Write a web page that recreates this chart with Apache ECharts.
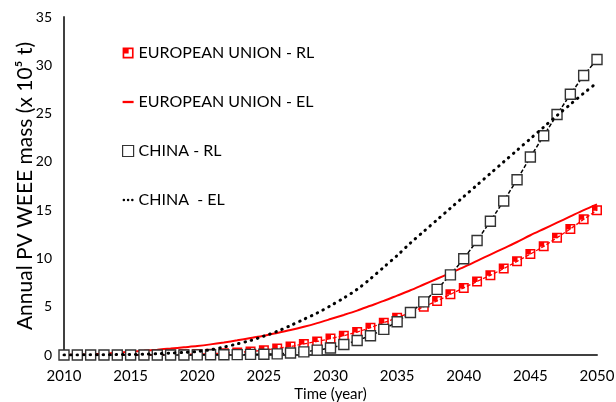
<!DOCTYPE html>
<html>
<head>
<meta charset="utf-8">
<script src="https://cdn.jsdelivr.net/npm/echarts@6/dist/echarts.min.js"></script>
<style>
html,body{margin:0;padding:0;background:#fff;}
#chart{width:616px;height:402px;}
</style>
</head>
<body>
<div id="chart"></div>
<script>
// ---- data ----
var years = [2010,2011,2012,2013,2014,2015,2016,2017,2018,2019,2020,2021,2022,2023,2024,2025,2026,2027,2028,2029,2030,2031,2032,2033,2034,2035,2036,2037,2038,2039,2040,2041,2042,2043,2044,2045,2046,2047,2048,2049,2050];
var euRL = [0,0,0,0,0.01,0.01,0.02,0.03,0.05,0.07,0.1,0.14,0.19,0.26,0.36,0.5,0.68,0.88,1.15,1.4,1.7,2.0,2.38,2.83,3.35,3.85,4.4,5.0,5.6,6.28,6.95,7.62,8.25,8.95,9.7,10.45,11.25,12.15,13.05,14.05,15.0];
var euEL = [0,0.03,0.08,0.15,0.24,0.34,0.44,0.55,0.67,0.8,0.93,1.1,1.3,1.52,1.76,2.0,2.28,2.58,2.92,3.3,3.72,4.15,4.6,5.1,5.6,6.15,6.7,7.3,7.9,8.5,9.1,9.75,10.4,11.05,11.7,12.4,13.05,13.7,14.35,15.0,15.6];
var cnRL = [0,0,0,0,0,0,0,0,0,0,0.01,0.02,0.03,0.04,0.06,0.08,0.12,0.2,0.32,0.5,0.72,1.08,1.5,2.0,2.65,3.45,4.4,5.5,6.8,8.3,9.97,11.85,13.85,15.95,18.15,20.5,22.7,24.9,27.0,28.95,30.6];
var cnEL = [0,0.01,0.02,0.03,0.04,0.05,0.08,0.13,0.2,0.27,0.36,0.55,0.82,1.15,1.5,1.95,2.45,3.05,3.7,4.35,5.1,5.9,6.8,7.9,9.1,10.3,11.6,12.8,14.0,15.2,16.4,17.6,18.8,20.0,21.2,22.4,23.6,24.8,25.95,27.1,28.2];
var seriesNames = ['EUROPEAN UNION - RL','EUROPEAN UNION - EL','CHINA - RL','CHINA  - EL'];
var yTicks = [0,5,10,15,20,25,30,35];
var xTicks = [2010,2015,2020,2025,2030,2035,2040,2045,2050];

function pairs(vals){ return years.map(function(y,i){ return [y, vals[i]]; }); }

var FONT = 'Lato';
var euMarker = 'path://M0,0L10,0L10,10L0,10Z M1.5,1.5L1.5,8.5L8.5,8.5L8.5,1.5Z M1.5,1.5L5.5,1.5L5.5,5.5L1.5,5.5Z';
var dotIcon = 'path://M0,4a1.5,1.5 0 1,0 3,0a1.5,1.5 0 1,0 -3,0Z M5,4a1.5,1.5 0 1,0 3,0a1.5,1.5 0 1,0 -3,0Z M10,4a1.5,1.5 0 1,0 3,0a1.5,1.5 0 1,0 -3,0Z';
var lineIcon = 'path://M0,0L12,0L12,2.5L0,2.5Z';

var chart = echarts.init(document.getElementById('chart'), null, {renderer:'canvas'});
chart.setOption({
  animation:false,
  backgroundColor:'#ffffff',
  grid:{left:64,right:19,top:17,bottom:47,containLabel:false,outerBoundsMode:'none'},
  legend:{
    orient:'vertical', left:117, top:40, itemGap:33,
    itemWidth:11, itemHeight:11,
    textStyle:{fontFamily:FONT,fontSize:16,color:'#000'},
    data:[
      {name:seriesNames[0], icon:euMarker, itemStyle:{color:'#ff0000', borderWidth:0}},
      {name:seriesNames[1], icon:lineIcon, itemStyle:{color:'#ff0000', borderWidth:0}},
      {name:seriesNames[2], icon:'rect', itemStyle:{color:'#ffffff', borderColor:'#333', borderWidth:1.2}},
      {name:seriesNames[3], icon:dotIcon, itemStyle:{color:'#000', borderWidth:0}}
    ]
  },
  xAxis:{
    type:'value', min:2010, max:2050, interval:5,
    name:'Time (year)', nameLocation:'middle', nameGap:32, nameMoveOverlap:false,
    nameTextStyle:{fontFamily:FONT,fontSize:15,color:'#000',verticalAlign:'top'},
    axisLine:{show:true,lineStyle:{color:'#404040',width:2}},
    axisTick:{show:false},
    splitLine:{show:false},
    axisLabel:{fontFamily:FONT,fontSize:15,color:'#000',margin:14,
      formatter:function(v){ return xTicks.indexOf(v)>=0 ? String(v) : ''; }}
  },
  yAxis:{
    type:'value', min:0, max:35, interval:5,
    name:'Annual PV WEEE mass (x 10\u2075 t)', nameLocation:'middle', nameGap:28, nameRotate:90, nameMoveOverlap:false,
    nameTextStyle:{fontFamily:FONT,fontSize:21,color:'#000'},
    axisLine:{show:true,lineStyle:{color:'#404040',width:2}},
    axisTick:{show:false},
    splitLine:{show:false},
    axisLabel:{fontFamily:FONT,fontSize:14,color:'#000',margin:12,
      formatter:function(v){ return yTicks.indexOf(v)>=0 ? String(v) : ''; }}
  },
  series:[
    {name:seriesNames[0], type:'line', data:pairs(euRL),
      symbol:euMarker, symbolSize:10, z:2,
      itemStyle:{color:'#ff0000', borderWidth:0},
      lineStyle:{color:'#ff0000', width:1.3, type:[4,2]}},
    {name:seriesNames[1], type:'line', data:pairs(euEL), smooth:0.3,
      symbol:'none', z:3,
      itemStyle:{color:'#ff0000'},
      lineStyle:{color:'#ff0000', width:2}},
    {name:seriesNames[2], type:'line', data:pairs(cnRL),
      symbol:'rect', symbolSize:10, z:4,
      itemStyle:{color:'#ffffff', borderColor:'#333333', borderWidth:1.4},
      lineStyle:{color:'#000', width:1.5, type:[4,2]}},
    {name:seriesNames[3], type:'line', data:pairs(cnEL), smooth:0.3,
      symbol:'none', z:5,
      itemStyle:{color:'#000'},
      lineStyle:{color:'#000', width:3, type:[0.5,6], cap:'round'}}
  ]
});
</script>
</body>
</html>
